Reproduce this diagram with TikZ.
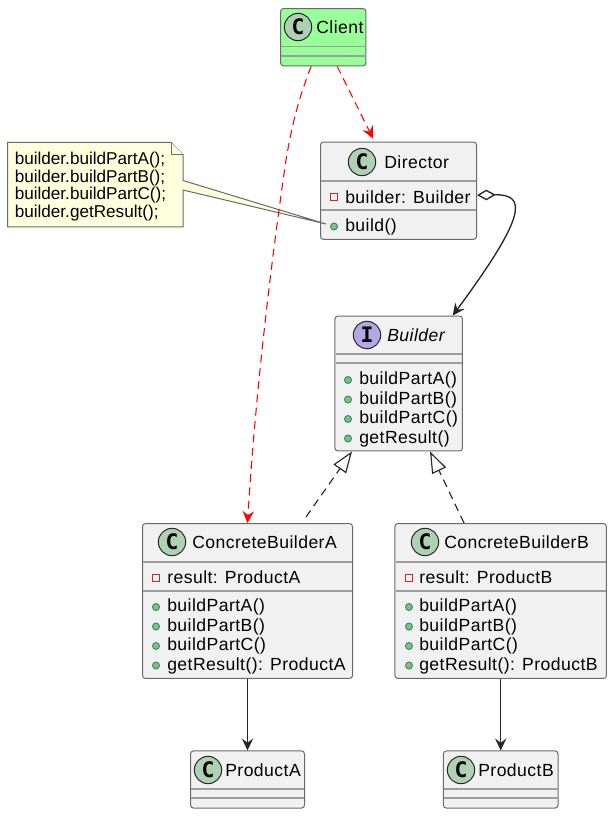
\documentclass[tikz,border=0pt]{standalone}
\usepackage{fontspec}
\setmainfont{Liberation Sans}
\newfontfamily\spotfont{DejaVu Sans Mono}
\newfontfamily\classfont[LetterSpace=2.5]{Liberation Sans}
\usetikzlibrary{calc,arrows.meta}
\definecolor{boxfill}{HTML}{F1F1F1}
\definecolor{boxline}{HTML}{6A6A6A}
\definecolor{clientfill}{HTML}{99FF99}
\definecolor{notefill}{HTML}{FEFFDD}
\definecolor{classspot}{HTML}{ADD1B2}
\definecolor{ifacespot}{HTML}{B4A7E5}
\definecolor{publine}{HTML}{2E8B60}
\definecolor{pubfill}{HTML}{84BE84}
\definecolor{privline}{HTML}{C82930}
\tikzset{
 classbox/.style={draw=boxline, fill=boxfill, line width=0.75pt, rounded corners=2.2pt, inner sep=0pt},
 sepline/.style={draw=boxline!65, line width=0.8pt},
 spot/.style={circle, draw=black!85, line width=0.75pt, minimum size=20.5pt, inner sep=0pt, font=\spotfont\bfseries\fontsize{16}{16}\selectfont},
 classname/.style={anchor=base west, inner sep=0pt, font=\classfont\fontsize{13.2}{15}\selectfont},
 member/.style={anchor=base west, inner sep=0pt, font=\classfont\fontsize{13.2}{15}\selectfont},
 notetext/.style={anchor=base west, inner sep=0pt, font=\fontsize{12.85}{15}\selectfont},
 pub/.style={draw=publine, fill=pubfill, line width=0.7pt},
 priv/.style={draw=privline, fill=boxfill, line width=0.7pt},
 useline/.style={red, dash pattern=on 6pt off 4pt, line width=0.8pt, -{Stealth[length=9pt,width=8.5pt,inset=3.2pt]}},
 assoc/.style={black!85, line width=1pt, -{Stealth[length=9pt,width=8.5pt,inset=3.2pt]}},
 impl/.style={black!85, dash pattern=on 6pt off 4pt, line width=0.85pt, -{Triangle[open,fill=white,length=16pt,width=11.5pt]}}
}
\begin{document}
\begin{tikzpicture}[x=0.75pt,y=-0.75pt]
\useasboundingbox (0,0) rectangle (614,816);
% client
\node[classbox, fill=clientfill, minimum width=64pt, minimum height=43pt] (client) at (323.2,37.2) {};
\draw[sepline] (281,46.5)--(365.5,46.5);
\draw[sepline] (281,56)--(365.5,56);
\node[spot, fill=classspot] (clientspot) at (298,27) {C};
\node[classname] (clientname) at (316,34) {Client};

% director
\node[classbox, minimum width=117pt, minimum height=73pt] (director) at (398.5,190.7) {};
\draw[sepline] (321,181)--(476,181);
\draw[sepline] (321,210)--(476,210);
\node[spot, fill=classspot] (directorspot) at (362,162) {C};
\node[classname] (directorname) at (384,169) {Director};
\draw[priv] (330.5,193.5) rectangle (337.5,200.5);
\node[member] (directorfield) at (345,203.5) {builder: Builder};
\draw[pub] (334,226.5) circle[radius=3.5];
\node[member] (directorbuild) at (345,232) {build()};

% note
\draw[draw=boxline, fill=notefill, line width=0.75pt] (7.5,142.5)--(171,142.5)--(183,154.5)--(183,180.5)--(326,224)--(183,190)--(183,227)--(7.5,227)--cycle;
\draw[draw=boxline, fill=notefill, line width=0.75pt] (171,142.5)--(171,154.5)--(183,154.5);
\node[notetext] (notea) at (14.5,164.5) {builder.buildPartA();};
\node[notetext] (noteb) at (14.5,182.5) {builder.buildPartB();};
\node[notetext] (notec) at (14.5,200) {builder.buildPartC();};
\node[notetext] (noted) at (14.5,217.5) {builder.getResult();};

% builder
\node[classbox, minimum width=95.6pt, minimum height=101.2pt] (builder) at (398.7,383.5) {};
\draw[sepline] (335.5,354)--(462,354);
\draw[sepline] (335.5,363)--(462,363);
\node[spot, fill=ifacespot] (builderspot) at (367,335) {I};
\node[classname, font=\classfont\itshape\fontsize{13.2}{15}\selectfont] (buildername) at (387,341.5) {Builder};
\draw[pub] (348,380) circle[radius=3.5];
\node[member] (buildera) at (359,384.5) {buildPartA()};
\draw[pub] (348,399.5) circle[radius=3.5];
\node[member] (builderb) at (359,404) {buildPartB()};
\draw[pub] (348,419) circle[radius=3.5];
\node[member] (builderc) at (359,423.5) {buildPartC()};
\draw[pub] (348,438.5) circle[radius=3.5];
\node[member] (builderd) at (359,443) {getResult()};

% concrete builder A
\node[classbox, minimum width=157.5pt, minimum height=116.2pt] (concretea) at (247.5,601) {};
\draw[sepline] (143,562)--(352,562);
\draw[sepline] (143,591)--(352,591);
\node[spot, fill=classspot] (concreteaspot) at (172,542) {C};
\node[classname] (concreteaname) at (192,548.5) {ConcreteBuilderA};
\draw[priv] (152.5,574) rectangle (159.5,581);
\node[member] (concreteafield) at (167,583.5) {result: ProductA};
\draw[pub] (156,607) circle[radius=3.5];
\node[member] (concreteaa) at (167,611.5) {buildPartA()};
\draw[pub] (156,626.5) circle[radius=3.5];
\node[member] (concreteab) at (167,631) {buildPartB()};
\draw[pub] (156,646) circle[radius=3.5];
\node[member] (concreteac) at (167,650.5) {buildPartC()};
\draw[pub] (156,665.5) circle[radius=3.5];
\node[member] (concretead) at (167,670) {getResult(): ProductA};

% concrete builder B
\node[classbox, minimum width=158.6pt, minimum height=116.2pt] (concreteb) at (500.7,601) {};
\draw[sepline] (395.5,562)--(606,562);
\draw[sepline] (395.5,591)--(606,591);
\node[spot, fill=classspot] (concretebspot) at (425,542) {C};
\node[classname] (concretebname) at (444,548.5) {ConcreteBuilderB};
\draw[priv] (405.5,574) rectangle (412.5,581);
\node[member] (concretebfield) at (419,583.5) {result: ProductB};
\draw[pub] (409,607) circle[radius=3.5];
\node[member] (concreteba) at (419,611.5) {buildPartA()};
\draw[pub] (409,626.5) circle[radius=3.5];
\node[member] (concretebb) at (419,631) {buildPartB()};
\draw[pub] (409,646) circle[radius=3.5];
\node[member] (concretebc) at (419,650.5) {buildPartC()};
\draw[pub] (409,665.5) circle[radius=3.5];
\node[member] (concretebd) at (419,670) {getResult(): ProductB};

% products
\node[classbox, minimum width=85.5pt, minimum height=42.8pt] (producta) at (247.5,779.5) {};
\draw[sepline] (191,789)--(304,789);
\draw[sepline] (191,798)--(304,798);
\node[spot, fill=classspot] (productaspot) at (208,770) {C};
\node[classname] (productaname) at (225,776.5) {ProductA};
\node[classbox, minimum width=86pt, minimum height=42.8pt] (productb) at (500.7,779.5) {};
\draw[sepline] (444,789)--(557.5,789);
\draw[sepline] (444,798)--(557.5,798);
\node[spot, fill=classspot] (productbspot) at (461,770) {C};
\node[classname] (productbname) at (478,776.5) {ProductB};

% connectors
\draw[useline] ($(client.south)+(14,0)$)--($(director.north)+(-25.5,-3)$);
\draw[useline] ($(client.south)+(-12,0)$) .. controls (298,100) and (292,125) .. (286,160) .. controls (270,270) and (255,400) .. (concretea.north);
\draw[assoc, {Diamond[open,fill=white,length=14pt,width=8pt]}-{Stealth[length=9pt,width=8.5pt,inset=3.2pt]}] ($(director.east)+(0,4.5)$) .. controls (527,194) and (527,215) .. ($(builder.north)+(54,0)$);
\coordinate (impla) at (306,517);
\coordinate (implb) at (464,523);
\draw[impl] (impla)--($(builder.south)+(-46.7,0)$);
\draw[impl] (implb)--($(builder.south)+(31.3,0)$);
\draw[assoc] (concretea.south)--(producta.north);
\draw[assoc] (concreteb.south)--(productb.north);
\end{tikzpicture}
\end{document}
